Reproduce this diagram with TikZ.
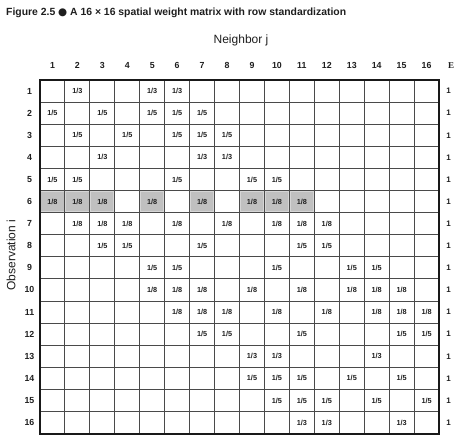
\documentclass[tikz,border=0pt]{standalone}
\usepackage{fontspec}
\setmainfont{Liberation Sans}
\newfontfamily\symfont{DejaVu Sans}
\newfontfamily\serifE{Liberation Serif}
\definecolor{txt}{HTML}{1E1E1E}
\definecolor{gridc}{HTML}{4A4A4A}
\definecolor{shade}{HTML}{C0C0C0}
\definecolor{shadeedge}{HTML}{D6D6D6}
\begin{document}
\begin{tikzpicture}[x=1pt,y=-1pt,
  wval/.style={font=\fontsize{7.3}{8}\selectfont\bfseries, text=txt, inner sep=0pt},
  lab/.style={font=\fontsize{8.8}{9}\selectfont\bfseries, text=txt, inner sep=0pt},
  sumlab/.style={font=\fontsize{8}{9}\selectfont\bfseries, text=txt, inner sep=0pt},
  axis/.style={font=\fontsize{12}{13}\selectfont, text=txt, inner sep=0pt},
  gridline/.style={draw=gridc, line width=1pt},
  border/.style={draw=black!90, line width=1.8pt},
  shaded/.style={fill=shade, draw=shadeedge, line width=0.9pt}]
\def\cw{24.94}
\def\rh{22.1}
\useasboundingbox (0,0) rectangle (462,437);
% title
\node[anchor=west, inner sep=0pt, text=txt, font=\fontsize{10.4}{11}\selectfont\bfseries] (title) at (6,13)
  {Figure 2.5 {\symfont\fontsize{10.4}{11}\selectfont ●} A 16 × 16 spatial weight matrix with row standardization};
% axis titles
\node[axis] (neighbor) at (241,40) {Neighbor j};
\node[axis, rotate=90] (observation) at (11,255) {Observation i};
% shaded cells of row 6
\foreach \c in {1,2,3,5,7,9,10,11}
  \path[shaded] ({40+(\c-1)*\cw+0.9},{80+5*\rh+0.9}) rectangle ++({\cw-1.8},{\rh-1.8});
% grid
\foreach \i in {1,...,15} {
  \draw[gridline] ({40+\i*\cw},80) -- ({40+\i*\cw},{80+16*\rh});
  \draw[gridline] (40,{80+\i*\rh}) -- ({40+16*\cw},{80+\i*\rh});
}
\draw[border] (40,80) rectangle ({40+16*\cw},{80+16*\rh});
% column labels
\foreach \c in {1,...,16}
  \node[lab] (col\c) at ({40+(\c-0.5)*\cw},65.5) {\c};
\node[font=\fontsize{9}{10}\selectfont\serifE\bfseries, text=txt, inner sep=0pt] (colE) at (451,65.5) {E};
% row labels and row sums
\foreach \r in {1,...,16} {
  \node[lab] (row\r) at (29.5,{80+(\r-0.5)*\rh}) {\r};
  \node[sumlab] (sum\r) at (448.5,{80+(\r-0.5)*\rh}) {1};
}
% weights
\foreach \r/\v/\cols in {
  1/3/{2,5,6},
  2/5/{1,3,5,6,7},
  3/5/{2,4,6,7,8},
  4/3/{3,7,8},
  5/5/{1,2,6,9,10},
  6/8/{1,2,3,5,7,9,10,11},
  7/8/{2,3,4,6,8,10,11,12},
  8/5/{3,4,7,11,12},
  9/5/{5,6,10,13,14},
  10/8/{5,6,7,9,11,13,14,15},
  11/8/{6,7,8,10,12,14,15,16},
  12/5/{7,8,11,15,16},
  13/3/{9,10,14},
  14/5/{9,10,11,13,15},
  15/5/{10,11,12,14,16},
  16/3/{11,12,15}} {
  \foreach \c in \cols
    \node[wval] (w-\r-\c) at ({40+(\c-0.5)*\cw},{80+(\r-0.5)*\rh}) {1/\v};
}
\end{tikzpicture}
\end{document}
